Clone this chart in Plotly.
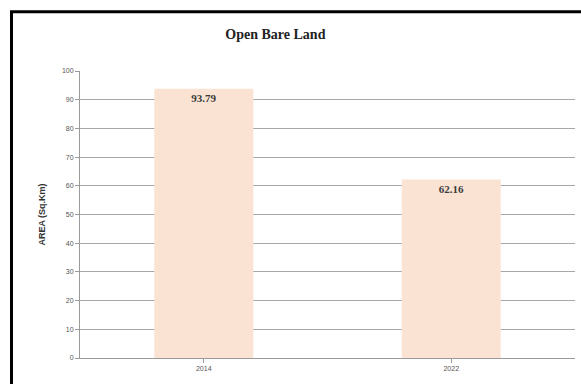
import plotly.graph_objects as go

years = ["2014", "2022"]
area = [93.79, 62.16]
labels = ["93.79", "62.16"]
y_ticks = [0, 10, 20, 30, 40, 50, 60, 70, 80, 90, 100]

fig = go.Figure()
fig.add_trace(go.Bar(
    x=years, y=area,
    marker=dict(color="#FBE3D4", line=dict(width=0)),
    text=labels, textposition="inside", insidetextanchor="end",
    textfont=dict(family="Liberation Serif", size=11, color="#3a3a3a"),
    texttemplate="<b>%{text}</b>", textangle=0,
    showlegend=False,
))

fig.update_layout(
    width=581, height=384,
    margin=dict(l=80, r=6, t=71, b=26, autoexpand=False),
    paper_bgcolor="white", plot_bgcolor="white",
    bargap=0.6,
    title=dict(text="<b>Open Bare Land</b>", x=0.474, xanchor="center", y=0.91, yanchor="middle",
               font=dict(family="Liberation Serif", size=14, color="#222222")),
    xaxis=dict(type="category", categoryorder="array", categoryarray=years,
               showline=True, linecolor="#9a9a9a", linewidth=1, ticks="outside", ticklen=4,
               tickcolor="#9a9a9a", tickfont=dict(family="Liberation Sans", size=7, color="#555555"),
               showgrid=False, zeroline=False),
    yaxis=dict(range=[0, 100], tickvals=y_ticks, showline=True, linecolor="#9a9a9a", linewidth=1,
               ticks="outside", ticklen=4, tickcolor="#9a9a9a",
               tickfont=dict(family="Liberation Sans", size=7, color="#555555"),
               showgrid=True, gridcolor="#a8a8a8", gridwidth=1, zeroline=False,
               title=dict(text="<b>AREA (Sq.Km)</b>", standoff=14,
                          font=dict(family="Liberation Sans", size=9, color="#333333"))),
)

# outer chart border (decoration)
fig.add_shape(type="rect", xref="paper", yref="paper",
              x0=(11.5 - 80) / 495, x1=1.05, y0=-0.2, y1=(357.7 - 11.5) / 287,
              line=dict(color="black", width=3), fillcolor="rgba(0,0,0,0)", layer="above")

fig.write_html("out.html", config={"displayModeBar": False},
               post_script="document.body.style.margin='0';")
